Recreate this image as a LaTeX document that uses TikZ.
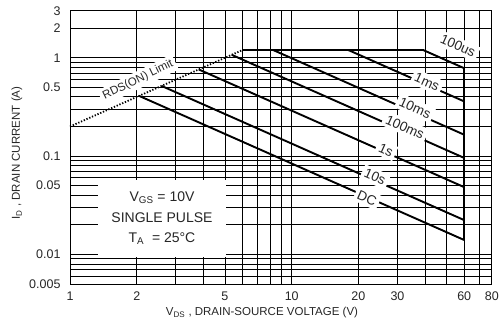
\documentclass[tikz,border=0pt]{standalone}
\usepackage{fontspec}
\setmainfont{Liberation Sans}
\pgfmathdeclarefunction{vx}{1}{\pgfmathparse{70+221.7*ln(#1)/ln(10)}}
\pgfmathdeclarefunction{iy}{1}{\pgfmathparse{284-98.3*ln(#1/0.005)/ln(10)}}
\begin{document}
\begin{tikzpicture}[
      x=1pt, y=-1pt,
      grid/.style={line width=0.9pt},
      soa/.style={line width=1.9pt},
      rdslimit/.style={line width=1.8pt, dash pattern=on 1.3pt off 1.7pt},
      ticklab/.style={font=\fontsize{12.5}{12.5}\selectfont, text=black!85},
      axlab/.style={font=\fontsize{11.5}{12}\selectfont, text=black!85},
      curvelab/.style={fill=white, inner sep=3pt, rotate=-24,
        font=\fontsize{13.5}{13.5}\selectfont, text=black!85},
      rdslab/.style={fill=white, inner sep=3pt, rotate=26,
        font=\fontsize{11.5}{11.5}\selectfont, text=black!85}
    ]
      \useasboundingbox (0,0) rectangle (502,328);

      % log grid
      \foreach \v in {1,...,10,20,30,...,80}
        \draw[grid] ({vx(\v)},11) -- ({vx(\v)},284);
      \foreach \i in {0.005,0.006,0.007,0.008,0.009,0.01,0.02,0.03,0.04,0.05,
          0.06,0.07,0.08,0.09,0.1,0.2,0.3,0.4,0.5,0.6,0.7,0.8,0.9,1,2,3}
        \draw[grid] (70,{iy(\i)}) -- (492,{iy(\i)});

      % envelope
      \coordinate (rds-a) at ({vx(1)},{iy(0.2)});
      \coordinate (rds-b) at ({vx(6)},{iy(1.2)});
      \coordinate (us-a) at ({vx(39.17)},{iy(1.2)});
      \coordinate (us-b) at ({vx(60)},{iy(0.7833)});
      \coordinate (dc-b) at ({vx(60)},{iy(0.014)});

      \draw[rdslimit] (rds-a) -- (rds-b);
      \draw[soa] (rds-b) -- (us-a) -- (us-b);
      \draw[soa] (us-b) -- (dc-b);

      % pulse lines
      \coordinate (ms1-a) at ({vx(18)},{iy(1.2)});
      \coordinate (ms1-b) at ({vx(60)},{iy(0.36)});
      \coordinate (ms10-a) at ({vx(8.25)},{iy(1.2)});
      \coordinate (ms10-b) at ({vx(60)},{iy(0.165)});
      \coordinate (ms100-a) at ({vx(5.362)},{iy(1.0724)});
      \coordinate (ms100-b) at ({vx(60)},{iy(0.09583)});
      \coordinate (s1-a) at ({vx(3.808)},{iy(0.7616)});
      \coordinate (s1-b) at ({vx(60)},{iy(0.04833)});
      \coordinate (s10-a) at ({vx(2.588)},{iy(0.5177)});
      \coordinate (s10-b) at ({vx(60)},{iy(0.02233)});
      \coordinate (dc-a) at ({vx(2.049)},{iy(0.41)});

      \draw[soa] (ms1-a) -- (ms1-b);
      \draw[soa] (ms10-a) -- (ms10-b);
      \draw[soa] (ms100-a) -- (ms100-b);
      \draw[soa] (s1-a) -- (s1-b);
      \draw[soa] (s10-a) -- (s10-b);
      \draw[soa] (dc-a) -- (dc-b);

      % curve labels
      \node (rdstext) at (138,80) [rdslab]{RDS(ON) Limit};
      \node (uslab) at (458,46) [curvelab]{100us};
      \node (ms1lab) at (427,82) [curvelab]{1ms};
      \node (ms10lab) at (415,108) [curvelab]{10ms};
      \node (ms100lab) at (405,127) [curvelab]{100ms};
      \node (s1lab) at (386,150) [curvelab]{1s};
      \node (s10lab) at (375,177) [curvelab]{10s};
      \node (dclab) at (367,198) [curvelab]{DC};

      % conditions
      \node (cond) at (162,218.5) [fill=white, minimum width=128pt, minimum height=77pt,
        align=center, font=\fontsize{14}{20.5}\selectfont, text=black!85]
        {V\textsubscript{GS} = 10V\\SINGLE PULSE\\T\textsubscript{A} \ = 25°C};

      % tick labels
      \foreach \v in {1,2,5,10,20,30,60,80}
        \node (x\v) at ({vx(\v)},296) [ticklab]{\v};
      \foreach \i/\l in {3/3,2/2,1/1,0.5/0.5,0.1/0.1,0.05/0.05,0.01/0.01,0.005/0.005}
        \node (y\l) at (64,{iy(\i)}) [ticklab,anchor=east]{\l};

      % axis titles
      \node (xtitle) at (262,313) [axlab]{V\textsubscript{DS} , DRAIN-SOURCE VOLTAGE (V)};
      \node (ytitle) at (17,153) [axlab,rotate=90]{I\textsubscript{D} , DRAIN CURRENT (A)};

    \end{tikzpicture}
\end{document}
